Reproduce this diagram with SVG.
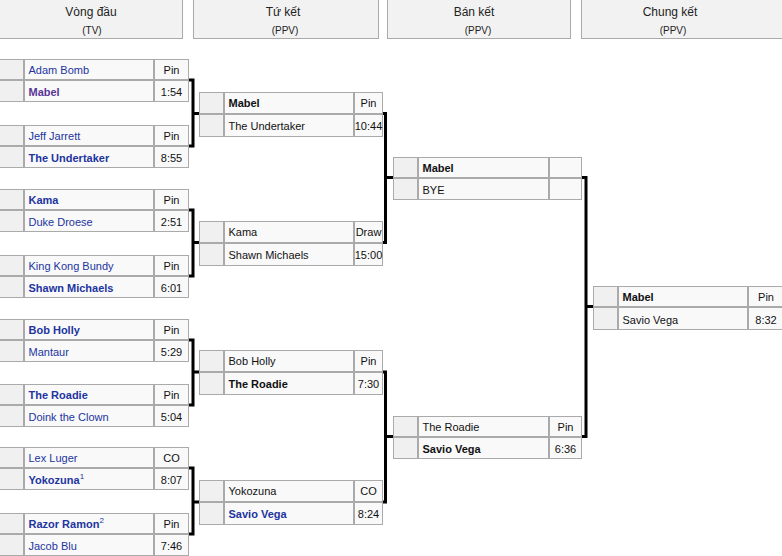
<svg xmlns="http://www.w3.org/2000/svg" width="782" height="556" viewBox="0 0 782 556">
<style>
  .hdr { fill: #f2f2f2; stroke: #aaaaaa; stroke-width: 1; }
  .seed { fill: #f0f0f0; stroke: #aaaaaa; stroke-width: 1; }
  .cell { fill: #f9f9f9; stroke: #aaaaaa; stroke-width: 1; }
  text { font-family: "Liberation Sans", Arial, sans-serif; font-size: 11px; fill: #111111; }
  .ht { font-size: 12px; fill: #222222; text-anchor: middle; }
  .hs { font-size: 10px; fill: #222222; text-anchor: middle; }
  .lk { fill: #2234a0; }
  .vl { fill: #5a3696; }
  .b { font-weight: bold; }
  .sc { text-anchor: middle; }
  .sup { font-size: 8px; font-weight: normal; }
  .con { fill: none; stroke: #000000; stroke-width: 3; stroke-linejoin: miter; stroke-linecap: butt; }
</style>
<defs>
  <g id="r1">
    <rect class="seed" x="-10" y="0.5" width="33.5" height="20"/>
    <rect class="seed" x="-10" y="21.5" width="33.5" height="21"/>
    <rect class="cell" x="24.5" y="0.5" width="129" height="20"/>
    <rect class="cell" x="24.5" y="21.5" width="129" height="21"/>
    <rect class="cell" x="154.5" y="0.5" width="34" height="20"/>
    <rect class="cell" x="154.5" y="21.5" width="34" height="21"/>
  </g>
  <g id="qf">
    <rect class="seed" x="199.5" y="0.5" width="24" height="21"/>
    <rect class="seed" x="199.5" y="22.5" width="24" height="22"/>
    <rect class="cell" x="224.5" y="0.5" width="129" height="21"/>
    <rect class="cell" x="224.5" y="22.5" width="129" height="22"/>
    <rect class="cell" x="354.5" y="0.5" width="28" height="21"/>
    <rect class="cell" x="354.5" y="22.5" width="28" height="22"/>
  </g>
  <g id="sf">
    <rect class="seed" x="393.5" y="0.5" width="24" height="20"/>
    <rect class="seed" x="393.5" y="21.5" width="24" height="21"/>
    <rect class="cell" x="418.5" y="0.5" width="130" height="20"/>
    <rect class="cell" x="418.5" y="21.5" width="130" height="21"/>
    <rect class="cell" x="549.5" y="0.5" width="32" height="20"/>
    <rect class="cell" x="549.5" y="21.5" width="32" height="21"/>
  </g>
  <g id="fn">
    <rect class="seed" x="593.5" y="0.5" width="24" height="20"/>
    <rect class="seed" x="593.5" y="21.5" width="24" height="22"/>
    <rect class="cell" x="618.5" y="0.5" width="129" height="20"/>
    <rect class="cell" x="618.5" y="21.5" width="129" height="22"/>
    <rect class="cell" x="748.5" y="0.5" width="40" height="20"/>
    <rect class="cell" x="748.5" y="21.5" width="40" height="22"/>
  </g>
</defs>

<rect x="0" y="0" width="782" height="556" fill="#ffffff"/>

<g id="headers">
  <g id="h-r1">
    <rect class="hdr" x="-5" y="-5" width="187.5" height="43.5"/>
    <text class="ht" x="91" y="16">Vòng đầu</text>
    <text class="hs" x="92" y="34">(TV)</text>
  </g>
  <g id="h-qf">
    <rect class="hdr" x="193.5" y="-5" width="185" height="43.5"/>
    <text class="ht" x="283" y="16">Tứ kết</text>
    <text class="hs" x="285" y="34">(PPV)</text>
  </g>
  <g id="h-sf">
    <rect class="hdr" x="387.5" y="-5" width="183" height="43.5"/>
    <text class="ht" x="474" y="16">Bán kết</text>
    <text class="hs" x="478" y="34">(PPV)</text>
  </g>
  <g id="h-f">
    <rect class="hdr" x="581.5" y="-5" width="210" height="43.5"/>
    <text class="ht" x="670" y="16">Chung kết</text>
    <text class="hs" x="673" y="34">(PPV)</text>
  </g>
</g>

<g id="connectors">
  <path class="con" d="M189 80 H193 V146 H189 M193 113.5 H199"/>
  <path class="con" d="M189 210 H193 V276 H189 M193 242.5 H199"/>
  <path class="con" d="M189 340 H193 V405 H189 M193 372 H199"/>
  <path class="con" d="M189 468 H193 V534 H189 M193 502 H199"/>
  <path class="con" d="M383 113.5 H385.5 V242.5 H383 M385.5 177.5 H393"/>
  <path class="con" d="M383 372 H385.5 V502 H383 M385.5 436.5 H393"/>
  <path class="con" d="M582 177.5 H586 V436.5 H582 M586 306.5 H593"/>
</g>

<g id="r1-m1">
  <use href="#r1" y="59"/>
  <text class="lk" x="28.5" y="74">Adam Bomb</text>
  <text class="vl b" x="28.5" y="96">Mabel</text>
  <text class="sc" x="171.5" y="74">Pin</text>
  <text class="sc" x="171.5" y="96">1:54</text>
</g>
<g id="r1-m2">
  <use href="#r1" y="125"/>
  <text class="lk" x="28.5" y="140">Jeff Jarrett</text>
  <text class="lk b" x="28.5" y="162">The Undertaker</text>
  <text class="sc" x="171.5" y="140">Pin</text>
  <text class="sc" x="171.5" y="162">8:55</text>
</g>
<g id="r1-m3">
  <use href="#r1" y="189"/>
  <text class="lk b" x="28.5" y="204">Kama</text>
  <text class="lk" x="28.5" y="226">Duke Droese</text>
  <text class="sc" x="171.5" y="204">Pin</text>
  <text class="sc" x="171.5" y="226">2:51</text>
</g>
<g id="r1-m4">
  <use href="#r1" y="255"/>
  <text class="lk" x="28.5" y="270">King Kong Bundy</text>
  <text class="lk b" x="28.5" y="292">Shawn Michaels</text>
  <text class="sc" x="171.5" y="270">Pin</text>
  <text class="sc" x="171.5" y="292">6:01</text>
</g>
<g id="r1-m5">
  <use href="#r1" y="319"/>
  <text class="lk b" x="28.5" y="334">Bob Holly</text>
  <text class="lk" x="28.5" y="356">Mantaur</text>
  <text class="sc" x="171.5" y="334">Pin</text>
  <text class="sc" x="171.5" y="356">5:29</text>
</g>
<g id="r1-m6">
  <use href="#r1" y="384"/>
  <text class="lk b" x="28.5" y="399">The Roadie</text>
  <text class="lk" x="28.5" y="421">Doink the Clown</text>
  <text class="sc" x="171.5" y="399">Pin</text>
  <text class="sc" x="171.5" y="421">5:04</text>
</g>
<g id="r1-m7">
  <use href="#r1" y="447"/>
  <text class="lk" x="28.5" y="462">Lex Luger</text>
  <text class="lk b" x="28.5" y="484">Yokozuna<tspan class="sup" dy="-5">1</tspan></text>
  <text class="sc" x="171.5" y="462">CO</text>
  <text class="sc" x="171.5" y="484">8:07</text>
</g>
<g id="r1-m8">
  <use href="#r1" y="513"/>
  <text class="lk b" x="28.5" y="528">Razor Ramon<tspan class="sup" dy="-5">2</tspan></text>
  <text class="lk" x="28.5" y="550">Jacob Blu</text>
  <text class="sc" x="171.5" y="528">Pin</text>
  <text class="sc" x="171.5" y="550">7:46</text>
</g>

<g id="qf-m1">
  <use href="#qf" y="92"/>
  <text class="b" x="228.5" y="107">Mabel</text>
  <text x="228.5" y="130">The Undertaker</text>
  <text class="sc" x="368.5" y="107">Pin</text>
  <text class="sc" x="368.5" y="130">10:44</text>
</g>
<g id="qf-m2">
  <use href="#qf" y="221"/>
  <text x="228.5" y="236">Kama</text>
  <text x="228.5" y="259">Shawn Michaels</text>
  <text class="sc" x="368.5" y="236">Draw</text>
  <text class="sc" x="368.5" y="259">15:00</text>
</g>
<g id="qf-m3">
  <use href="#qf" y="350"/>
  <text x="228.5" y="365">Bob Holly</text>
  <text class="b" x="228.5" y="388">The Roadie</text>
  <text class="sc" x="368.5" y="365">Pin</text>
  <text class="sc" x="368.5" y="388">7:30</text>
</g>
<g id="qf-m4">
  <use href="#qf" y="480"/>
  <text x="228.5" y="495">Yokozuna</text>
  <text class="lk b" x="228.5" y="518">Savio Vega</text>
  <text class="sc" x="368.5" y="495">CO</text>
  <text class="sc" x="368.5" y="518">8:24</text>
</g>

<g id="sf-m1">
  <use href="#sf" y="157"/>
  <text class="b" x="422.5" y="172">Mabel</text>
  <text x="422.5" y="194">BYE</text>
</g>
<g id="sf-m2">
  <use href="#sf" y="416"/>
  <text x="422.5" y="431">The Roadie</text>
  <text class="b" x="422.5" y="453">Savio Vega</text>
  <text class="sc" x="565.5" y="431">Pin</text>
  <text class="sc" x="565.5" y="453">6:36</text>
</g>

<g id="final">
  <use href="#fn" y="286"/>
  <text class="b" x="622.5" y="301">Mabel</text>
  <text x="622.5" y="324">Savio Vega</text>
  <text class="sc" x="766" y="301">Pin</text>
  <text class="sc" x="766" y="324">8:32</text>
</g>
</svg>
